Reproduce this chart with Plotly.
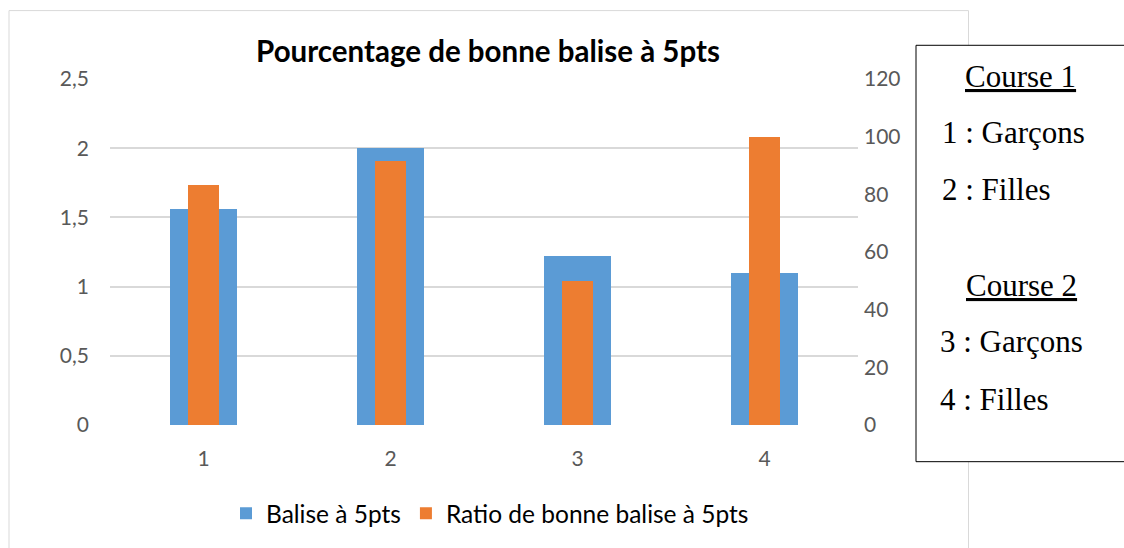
import plotly.graph_objects as go

categories = ["1", "2", "3", "4"]
balise = [1.56, 2.0, 1.22, 1.1]
ratio = [83.3, 91.7, 50.0, 100.0]
left_ticks = [0, 0.5, 1, 1.5, 2, 2.5]
right_ticks = [0, 20, 40, 60, 80, 100, 120]
note_lines = ["<u>Course 1</u>", "1 : Garçons", "2 : Filles",
              "<u>Course 2</u>", "3 : Garçons", "4 : Filles"]

BLUE = "#5B9BD5"
ORANGE = "#ED7D31"
FONT = "Lato, 'Open Sans', sans-serif"

W, H = 1124, 548
# plot area in page pixels
PL, PR, PT, PB = 110, 858, 79, 428


def px(x):
    return (x - PL) / (PR - PL)


def py(y):
    return (PB - y) / (PB - PT)


fig = go.Figure()
fig.add_trace(go.Bar(x=categories, y=balise, name="Balise à 5pts",
                     marker=dict(color=BLUE, line=dict(width=0)),
                     width=0.36, yaxis="y"))
fig.add_trace(go.Bar(x=categories, y=ratio, name="Ratio de bonne balise à 5pts",
                     marker=dict(color=ORANGE, line=dict(width=0)),
                     width=0.165, yaxis="y2"))

bx0, bx1, by0, by1 = 916, 1160, 465, 45
shapes = [
    dict(type="rect", xref="paper", yref="paper",
         x0=px(9), x1=px(968.5), y0=py(600), y1=py(10),
         line=dict(color="#D9D9D9", width=1), fillcolor="rgba(0,0,0,0)", layer="below"),
    dict(type="rect", xref="paper", yref="paper",
         x0=px(bx0), x1=px(bx1), y0=py(by0), y1=py(by1),
         line=dict(width=0), fillcolor="white", layer="above"),
    dict(type="line", xref="paper", yref="paper",
         x0=px(bx0), x1=px(bx1), y0=py(by1), y1=py(by1),
         line=dict(color="black", width=1), layer="above"),
    dict(type="line", xref="paper", yref="paper",
         x0=px(bx0), x1=px(bx1), y0=py(by0), y1=py(by0),
         line=dict(color="black", width=1), layer="above"),
    dict(type="line", xref="paper", yref="paper",
         x0=px(bx0), x1=px(bx0), y0=py(by0), y1=py(by1),
         line=dict(color="black", width=1), layer="above"),
]

annotations = []
note_pos = [(1020, 76, "center"), (940, 133, "left"), (940, 190, "left"),
            (1021, 287, "center"), (938, 344, "left"), (938, 402, "left")]
for txt, (xx, yy, al) in zip(note_lines, note_pos):
    annotations.append(dict(text=txt, xref="paper", yref="paper",
                            x=px(xx), y=py(yy), xanchor=al, yanchor="middle",
                            showarrow=False,
                            font=dict(family="'Liberation Serif', 'Times New Roman', serif",
                                      size=31, color="black")))

fig.update_layout(
    width=W, height=H,
    margin=dict(l=PL, r=W - PR, t=PT, b=H - PB),
    paper_bgcolor="white", plot_bgcolor="white",
    separators=", ",
    barmode="overlay",
    title=dict(text="<b>Pourcentage de bonne balise à 5pts</b>",
               x=488 / W, xref="container", xanchor="center",
               y=1 - 52 / H, yref="container", yanchor="middle",
               font=dict(family=FONT, size=29.5, color="black")),
    xaxis=dict(range=[-0.5, 3.5], showgrid=False, zeroline=False, showline=False,
               tickfont=dict(family=FONT, size=21, color="#595959"),
               ticks="", ticklabelstandoff=19),
    yaxis=dict(range=[0, 2.5], tickvals=left_ticks, showgrid=True,
               gridcolor="#D9D9D9", gridwidth=1.5, zeroline=False, showline=False,
               tickfont=dict(family=FONT, size=21, color="#595959"),
               ticks="", ticklabelstandoff=20),
    yaxis2=dict(range=[0, 120], tickvals=right_ticks, overlaying="y", side="right",
                showgrid=False, zeroline=False, showline=False,
                tickfont=dict(family=FONT, size=21, color="#595959"),
                ticks="", ticklabelstandoff=5),
    legend=dict(orientation="h", x=px(490), xanchor="center", y=py(517), yanchor="middle",
                font=dict(family=FONT, size=24.5, color="black"),
                itemwidth=30, traceorder="normal"),
    shapes=shapes,
    annotations=annotations,
    bargap=0,
)

fig.write_html("out.html",
               config={"displayModeBar": False},
               post_script="document.body.style.margin='0';"
                           "document.body.style.overflow='hidden';")
